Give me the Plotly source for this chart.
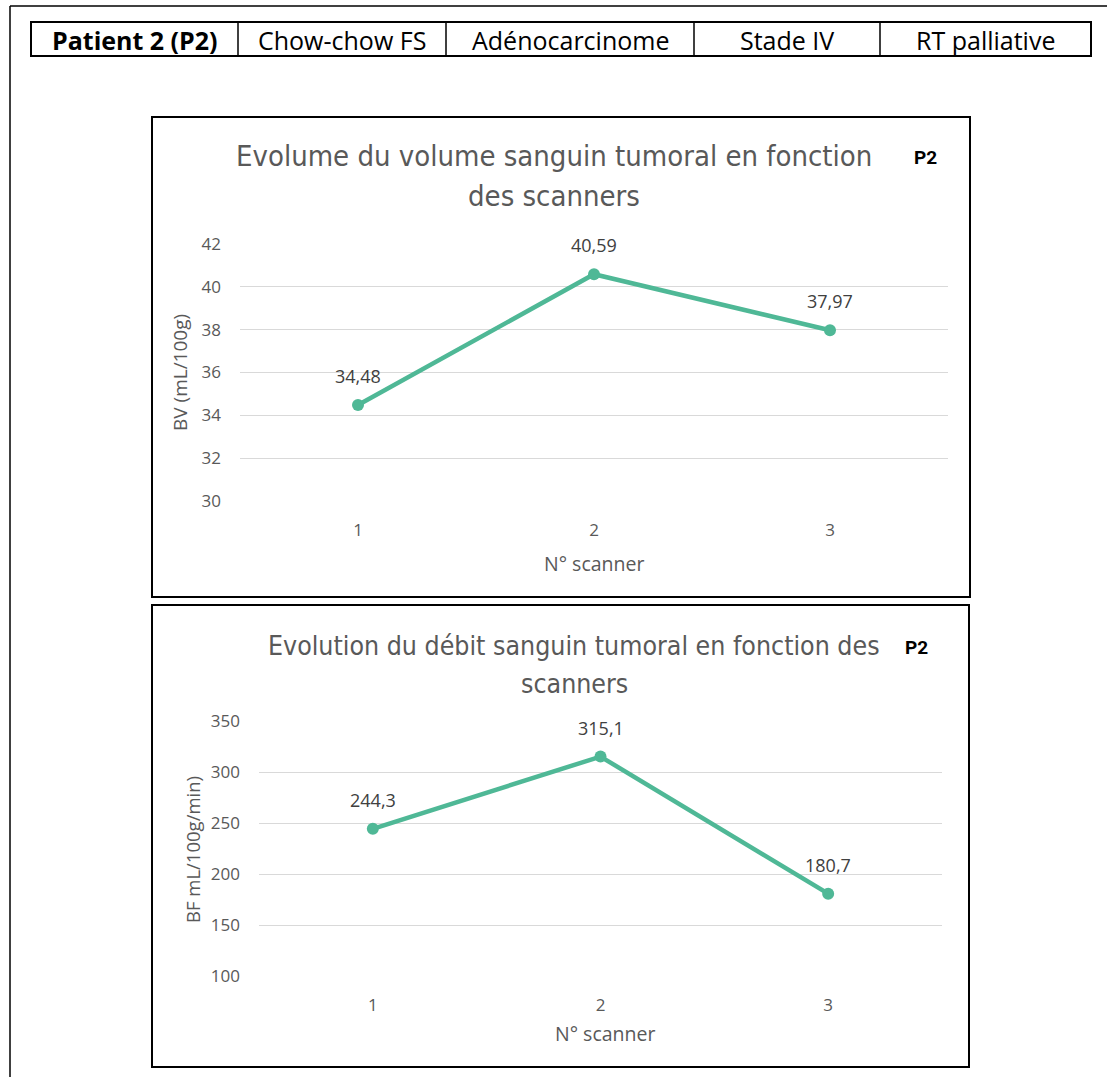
import plotly.graph_objects as go


# ==========================================================
# DATA
# ==========================================================

scans = [1, 2, 3]
scan_labels = ["1", "2", "3"]

bv_values = [34.48, 40.59, 37.97]
bf_values = [244.3, 315.1, 180.7]

table_cells = ["Patient 2 (P2)", "Chow-chow FS", "Adénocarcinome", "Stade IV", "RT palliative"]

bv_title = ["Evolume du volume sanguin tumoral en fonction", "des scanners"]
bf_title = ["Evolution du débit sanguin tumoral en fonction des", "scanners"]


# ==========================================================
# PAGE GEOMETRY (pixels -> paper)
# ==========================================================

W = 1107
H = 1077


def px(x):
    return x / W


def py(y):
    return 1 - y / H


LINE_COLOR = "#4FB896"
GRID_COLOR = "#D9D9D9"
TEXT_GREY = "#595959"
LABEL_GREY = "#404040"
TITLE_FONT = "Liberation Sans Narrow, DejaVu Sans Condensed, Roboto, sans-serif"
BODY_FONT = "Open Sans, Liberation Sans, sans-serif"
TABLE_FONT = "Open Sans, Lato, sans-serif"


def fmt(v, nd):
    return f"{v:.{nd}f}".replace(".", ",")


fig = go.Figure()

# ==========================================================
# TRACES
# ==========================================================

for vals, xa, ya in [(bv_values, "x", "y"), (bf_values, "x2", "y2")]:
    fig.add_trace(
        go.Scatter(
            x=scans,
            y=vals,
            mode="lines+markers",
            line={"color": LINE_COLOR, "width": 4.5},
            marker={"color": LINE_COLOR, "size": 12},
            xaxis=xa,
            yaxis=ya,
            showlegend=False,
            cliponaxis=False,
            hoverinfo="skip",
        )
    )

# ==========================================================
# AXES
# ==========================================================

x_common = dict(
    range=[0.5, 3.5],
    tickvals=scans,
    ticktext=scan_labels,
    showgrid=False,
    zeroline=False,
    showline=False,
    ticks="",
    automargin=False,
    ticklabelstandoff=17,
    tickfont={"size": 17, "color": TEXT_GREY, "family": BODY_FONT},
    fixedrange=True,
)

y_common = dict(
    showgrid=True,
    gridcolor=GRID_COLOR,
    gridwidth=1.3,
    zeroline=False,
    showline=False,
    ticks="",
    automargin=False,
    ticklabelstandoff=18,
    tickfont={"size": 17, "color": TEXT_GREY, "family": BODY_FONT},
    fixedrange=True,
)

fig.update_layout(
    xaxis=dict(x_common, domain=[px(240), px(948)], anchor="y"),
    yaxis=dict(y_common, domain=[py(501), py(244)], range=[30, 42], dtick=2, anchor="x"),
    xaxis2=dict(x_common, domain=[px(259), px(942)], anchor="y2"),
    yaxis2=dict(y_common, domain=[py(976), py(721)], range=[100, 350], dtick=50, anchor="x2"),
)

# ==========================================================
# FRAMES (page border, table, chart boxes)
# ==========================================================

shapes = []

# page border (top + left)
shapes.append(dict(type="line", xref="paper", yref="paper",
                   x0=px(10), y0=py(6), x1=px(1107), y1=py(6),
                   line={"color": "black", "width": 1.5}))
shapes.append(dict(type="line", xref="paper", yref="paper",
                   x0=px(10), y0=py(6), x1=px(10), y1=py(1077),
                   line={"color": "black", "width": 1.5}))

# table
table_edges = [31, 238, 446, 694, 880, 1091]
shapes.append(dict(type="rect", xref="paper", yref="paper",
                   x0=px(31), y0=py(22), x1=px(1091), y1=py(56),
                   line={"color": "black", "width": 2}))
for xe in table_edges[1:-1]:
    shapes.append(dict(type="line", xref="paper", yref="paper",
                       x0=px(xe), y0=py(22), x1=px(xe), y1=py(56),
                       line={"color": "black", "width": 1.5}))

# chart boxes
shapes.append(dict(type="rect", xref="paper", yref="paper",
                   x0=px(152), y0=py(117), x1=px(970), y1=py(597),
                   line={"color": "black", "width": 2}))
shapes.append(dict(type="rect", xref="paper", yref="paper",
                   x0=px(152), y0=py(605), x1=px(969), y1=py(1067),
                   line={"color": "black", "width": 2}))

# ==========================================================
# TEXT
# ==========================================================

annotations = []

for i, cell in enumerate(table_cells):
    xc = (table_edges[i] + table_edges[i + 1]) / 2
    annotations.append(dict(
        x=px(xc), y=py(40), xref="paper", yref="paper",
        text=f"<b>{cell}</b>" if i == 0 else cell,
        showarrow=False, xanchor="center", yanchor="middle",
        font={"size": 25, "color": "black", "family": TABLE_FONT},
    ))


def add_title(lines, xc, y1, y2, size):
    for text, yy in zip(lines, [y1, y2]):
        annotations.append(dict(
            x=px(xc), y=py(yy), xref="paper", yref="paper",
            text=text, showarrow=False, xanchor="center", yanchor="middle",
            font={"size": size, "color": TEXT_GREY, "family": TITLE_FONT},
        ))


add_title(bv_title, 554, 156, 196, 29)
add_title(bf_title, 574, 645, 683, 26.5)

for xx, yy in [(925, 158), (916, 647)]:
    annotations.append(dict(
        x=px(xx), y=py(yy), xref="paper", yref="paper",
        text="<b>P2</b>", showarrow=False, xanchor="center", yanchor="middle",
        font={"size": 19, "color": "black", "family": "Roboto, sans-serif"},
    ))

# data labels, placed through the data axes
for vals, xa, ya, nd in [(bv_values, "x", "y", 2), (bf_values, "x2", "y2", 1)]:
    for s, v in zip(scans, vals):
        annotations.append(dict(
            x=s, y=v, xref=xa, yref=ya, text=fmt(v, nd),
            showarrow=False, xanchor="center", yanchor="middle", yshift=29,
            font={"size": 18, "color": LABEL_GREY, "family": BODY_FONT},
        ))

# axis titles
annotations.append(dict(
    x=px(180), y=py(373), xref="paper", yref="paper", text="BV (mL/100g)",
    textangle=-90, showarrow=False, xanchor="center", yanchor="middle",
    font={"size": 19, "color": TEXT_GREY, "family": BODY_FONT},
))
annotations.append(dict(
    x=px(594), y=py(563), xref="paper", yref="paper", text="N° scanner",
    showarrow=False, xanchor="center", yanchor="middle",
    font={"size": 19.5, "color": TEXT_GREY, "family": BODY_FONT},
))
annotations.append(dict(
    x=px(192), y=py(850), xref="paper", yref="paper", text="BF mL/100g/min)",
    textangle=-90, showarrow=False, xanchor="center", yanchor="middle",
    font={"size": 18.5, "color": TEXT_GREY, "family": BODY_FONT},
))
annotations.append(dict(
    x=px(605), y=py(1033), xref="paper", yref="paper", text="N° scanner",
    showarrow=False, xanchor="center", yanchor="middle",
    font={"size": 19.5, "color": TEXT_GREY, "family": BODY_FONT},
))

fig.update_layout(
    template="none",
    width=W,
    height=H,
    autosize=False,
    margin=dict(l=0, r=0, t=0, b=0, pad=0, autoexpand=False),
    paper_bgcolor="white",
    plot_bgcolor="white",
    shapes=shapes,
    annotations=annotations,
    showlegend=False,
)

fig.write_html(
    "out.html",
    config={"displayModeBar": False},
    post_script="document.body.style.margin='0';",
)
